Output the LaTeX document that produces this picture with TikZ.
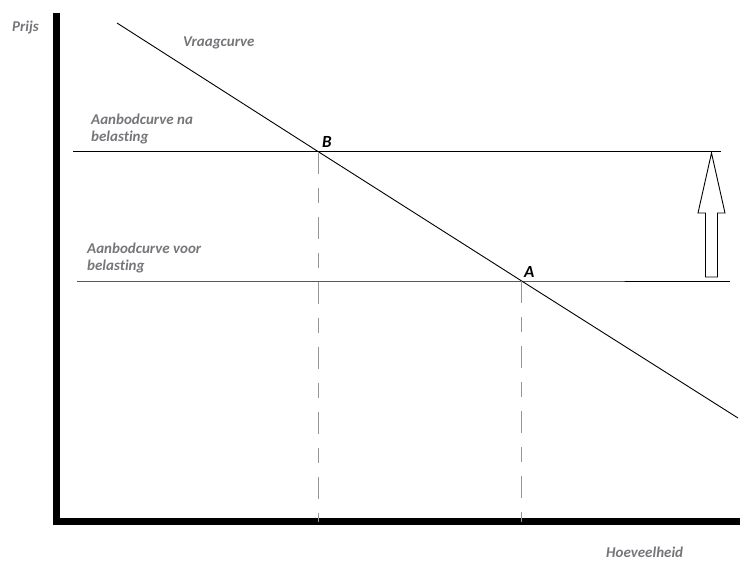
\documentclass[tikz,border=0pt]{standalone}
\usepackage{fontspec}
\newfontfamily\lblfont[Ligatures={NoCommon,NoRare,NoDiscretionary}]{Carlito}
\definecolor{lblgray}{RGB}{118,118,122}
\definecolor{guidegray}{RGB}{150,150,150}

\begin{document}
\begin{tikzpicture}
    [x=1pt,y=-1pt,
     every node/.style={inner sep=0pt,font=\lblfont\bfseries\itshape\fontsize{15}{16.5}\selectfont},
     lbl/.style={text=lblgray,anchor=base west},
     lbltwo/.style={text=lblgray,anchor=north west,align=left},
     ptlbl/.style={anchor=base west,font=\lblfont\bfseries\itshape\fontsize{17}{19}\selectfont},
     axis/.style={line width=7pt,line join=miter},
     curve/.style={line width=.9pt},
     guide/.style={guidegray,line width=.9pt,dash pattern=on 22pt off 14pt on 15pt off 14pt}]
    \useasboundingbox (0,0) rectangle (740,563);

    % points
    \coordinate (vtop) at (117,23);
    \coordinate (vend) at (738,418);
    \coordinate (B) at (318,151.5);
    \coordinate (A) at (521.7,281);
    \coordinate (nastart) at (73,151.5);
    \coordinate (naend) at (721,151.5);
    \coordinate (voorstart) at (77,281);
    \coordinate (voorend) at (730,281);
    \coordinate (Bfoot) at (318,521.5);
    \coordinate (Afoot) at (521.7,521.5);

    % axes
    \draw[axis] (56.3,12.7) -- (56.3,521.5) -- (740,521.5);

    % curves
    \draw[curve] (vtop) -- (B) -- (A) -- (vend);
    \draw[curve] (nastart) -- (B) -- (naend);
    \draw[curve] (voorstart) -- (A) -- (voorend);
    \draw[guide] (B) -- (Bfoot);
    \draw[guide] (A) -- (Afoot);

    % shift arrow
    \draw[curve] (711.5,153) -- (725,213) -- (717.5,213) -- (717.5,277)
        -- (705.5,277) -- (705.5,213) -- (698,213) -- cycle;

    % labels
    \node[lbl] (prijs) at (12,31) {Prijs};
    \node[lbl] (vraag) at (183,46) {Vraagcurve};
    \node[lbltwo] (na) at (91,114) {Aanbodcurve na\\belasting};
    \node[lbltwo] (voor) at (87,243) {Aanbodcurve voor\\belasting};
    \node[lbl] (hoev) at (606,557) {Hoeveelheid};
    \node[ptlbl] (Blbl) at (322,147) {B};
    \node[ptlbl] (Albl) at (524,277) {A};
\end{tikzpicture}
\end{document}
